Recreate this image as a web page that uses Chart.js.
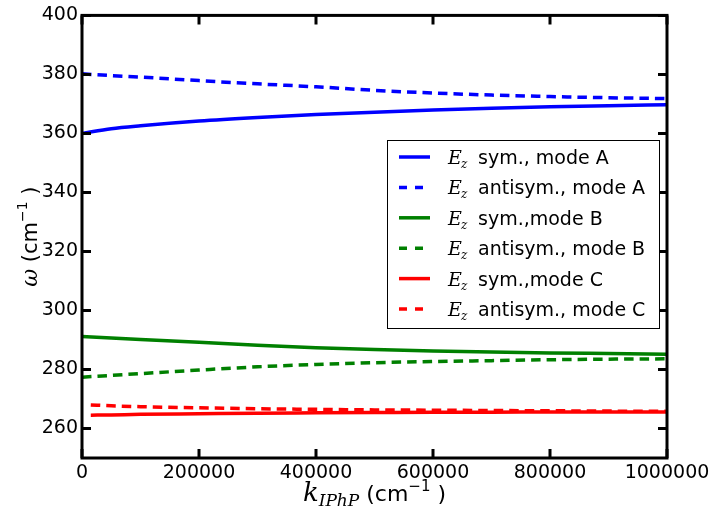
<!DOCTYPE html>
<html>
<head>
<meta charset="utf-8">
<script src="https://cdn.jsdelivr.net/npm/chart.js@4"></script>
<style>
  body { margin: 0; background: #fff; }
  #chart { display: block; }
</style>
</head>
<body>
<canvas id="chart" width="714" height="517"></canvas>
<script>
// Wave vector values (cm^-1) and frequencies
const kValues = [0, 50000, 100000, 200000, 300000, 400000, 500000, 600000, 700000, 800000, 900000, 1000000];
const kValuesC = [15000, 50000, 100000, 200000, 300000, 400000, 500000, 600000, 700000, 800000, 900000, 1000000];

const symA     = [360.0, 361.6, 362.6, 364.2, 365.4, 366.4, 367.2, 367.9, 368.5, 369.0, 369.4, 369.7];
const antisymA = [380.2, 379.6, 379.1, 377.9, 376.8, 375.8, 374.6, 373.7, 373.0, 372.5, 372.1, 371.8];
const symB     = [291.2, 290.7, 290.2, 289.2, 288.2, 287.4, 286.8, 286.3, 285.9, 285.6, 285.4, 285.2];
const antisymB = [277.4, 278.0, 278.6, 279.8, 280.9, 281.7, 282.3, 282.7, 283.0, 283.3, 283.5, 283.6];
const symC     = [264.5, 264.6, 264.8, 265.0, 265.2, 265.3, 265.4, 265.5, 265.5, 265.6, 265.6, 265.6];
const antisymC = [268.0, 267.7, 267.4, 267.0, 266.7, 266.5, 266.3, 266.2, 266.1, 266.0, 265.9, 265.8];

const legendLabels = ['sym., mode A', 'antisym., mode A', 'sym.,mode B', 'antisym., mode B', 'sym.,mode C', 'antisym., mode C'];

const xTicks = [0, 200000, 400000, 600000, 800000, 1000000];
const yTicks = [260, 280, 300, 320, 340, 360, 380, 400];

const DASH = [9.5, 6];

function toPoints(xs, ys) {
    return xs.map((x, i) => ({ x: x, y: ys[i] }));
}

function makeSeries(label, xs, ys, color, dashed) {
    return {
        label: label,
        data: toPoints(xs, ys),
        borderColor: color,
        backgroundColor: color,
        borderWidth: 3.5,
        borderDash: dashed ? DASH : [],
        pointRadius: 0,
        cubicInterpolationMode: 'monotone',
        fill: false
    };
}

const datasets = [
    makeSeries(legendLabels[0], kValues, symA, '#0000ff', false),
    makeSeries(legendLabels[1], kValues, antisymA, '#0000ff', true),
    makeSeries(legendLabels[2], kValues, symB, '#008000', false),
    makeSeries(legendLabels[3], kValues, antisymB, '#008000', true),
    makeSeries(legendLabels[4], kValuesC, symC, '#ff0000', false),
    makeSeries(legendLabels[5], kValuesC, antisymC, '#ff0000', true)
];

// frame, inward ticks, axis titles and legend drawn matplotlib-style
const decorPlugin = {
    id: 'decor',
    afterDraw(chart) {
        const ctx = chart.ctx;
        const area = chart.chartArea;
        const xs = chart.scales.x;
        const ys = chart.scales.y;
        const tickLen = 9;

        ctx.save();
        ctx.strokeStyle = '#000';
        ctx.lineWidth = 3;
        ctx.strokeRect(area.left, area.top, area.right - area.left, area.bottom - area.top);

        ctx.beginPath();
        xTicks.forEach(v => {
            const px = xs.getPixelForValue(v);
            ctx.moveTo(px, area.bottom);
            ctx.lineTo(px, area.bottom - tickLen);
            ctx.moveTo(px, area.top);
            ctx.lineTo(px, area.top + tickLen);
        });
        yTicks.forEach(v => {
            const py = ys.getPixelForValue(v);
            ctx.moveTo(area.left, py);
            ctx.lineTo(area.left + tickLen, py);
            ctx.moveTo(area.right, py);
            ctx.lineTo(area.right - tickLen, py);
        });
        ctx.stroke();

        // x axis title: k_IPhP (cm^-1)
        ctx.fillStyle = '#000';
        ctx.textBaseline = 'alphabetic';
        ctx.textAlign = 'left';
        const parts = [
            { t: 'k', f: 'italic 26px "DejaVu Serif"', dy: 0 },
            { t: 'IPhP', f: 'italic 17px "DejaVu Serif"', dy: 5 },
            { t: ' (cm', f: '22px "DejaVu Sans"', dy: 0 },
            { t: '\u22121', f: '15px "DejaVu Sans"', dy: -10 },
            { t: ' )', f: '22px "DejaVu Sans"', dy: 0 }
        ];
        drawParts(ctx, parts, (area.left + area.right) / 2, 501);

        // y axis title: ω (cm^-1), rotated
        ctx.save();
        ctx.translate(37, (area.top + area.bottom) / 2);
        ctx.rotate(-Math.PI / 2);
        const yParts = [
            { t: '\u03c9', f: 'italic 22px "DejaVu Serif"', dy: 0 },
            { t: ' (cm', f: '21px "DejaVu Sans"', dy: 0 },
            { t: '\u22121', f: '14px "DejaVu Sans"', dy: -10 },
            { t: ' )', f: '21px "DejaVu Sans"', dy: 0 }
        ];
        drawParts(ctx, yParts, 0, 0);
        ctx.restore();

        // legend box
        const box = { x: 387, y: 140, w: 272, h: 188 };
        ctx.fillStyle = '#fff';
        ctx.fillRect(box.x, box.y, box.w, box.h);
        ctx.lineWidth = 1;
        ctx.strokeStyle = '#000';
        ctx.strokeRect(box.x + 0.5, box.y + 0.5, box.w, box.h);

        chart.data.datasets.forEach((ds, i) => {
            const cy = 157 + i * 30.4;
            ctx.beginPath();
            ctx.strokeStyle = ds.borderColor;
            ctx.lineWidth = 3.5;
            ctx.setLineDash(ds.borderDash.length ? [8, 8] : []);
            ctx.moveTo(399, cy);
            ctx.lineTo(430, cy);
            ctx.stroke();
            ctx.setLineDash([]);

            ctx.fillStyle = '#000';
            ctx.textAlign = 'left';
            ctx.textBaseline = 'alphabetic';
            ctx.font = 'italic 19px "DejaVu Serif"';
            ctx.fillText('E', 448, cy + 7);
            ctx.font = 'italic 12px "DejaVu Serif"';
            ctx.fillText('z', 461, cy + 11);
            ctx.font = '19px "DejaVu Sans"';
            ctx.fillText(ds.label, 478, cy + 7);
        });
        ctx.restore();
    }
};

function drawParts(ctx, parts, cx, baseY) {
    let total = 0;
    parts.forEach(p => { ctx.font = p.f; total += ctx.measureText(p.t).width; });
    let x = cx - total / 2;
    parts.forEach(p => {
        ctx.font = p.f;
        ctx.textAlign = 'left';
        ctx.fillText(p.t, x, baseY + p.dy);
        x += ctx.measureText(p.t).width;
    });
}

Chart.defaults.color = '#000';
Chart.defaults.font.family = '"DejaVu Sans", sans-serif';

new Chart(document.getElementById('chart').getContext('2d'), {
    type: 'line',
    data: { datasets: datasets },
    options: {
        responsive: false,
        animation: false,
        devicePixelRatio: 1,
        layout: { padding: { top: 12, right: 47, left: 0, bottom: 0 } },
        plugins: {
            legend: { display: false },
            tooltip: { enabled: false }
        },
        scales: {
            x: {
                type: 'linear',
                min: 0,
                max: 1000000,
                grid: { display: false, drawTicks: false },
                border: { display: false },
                afterBuildTicks: scale => { scale.ticks = xTicks.map(v => ({ value: v })); },
                afterFit: scale => { scale.height = 59; },
                ticks: {
                    font: { size: 19 },
                    padding: 4,
                    maxRotation: 0,
                    callback: v => String(v)
                }
            },
            y: {
                min: 250,
                max: 400,
                grid: { display: false, drawTicks: false },
                border: { display: false },
                afterBuildTicks: scale => { scale.ticks = yTicks.map(v => ({ value: v })); },
                afterFit: scale => { scale.width = 82; },
                ticks: {
                    font: { size: 19 },
                    padding: 4
                }
            }
        }
    },
    plugins: [decorPlugin]
});
</script>
</body>
</html>
